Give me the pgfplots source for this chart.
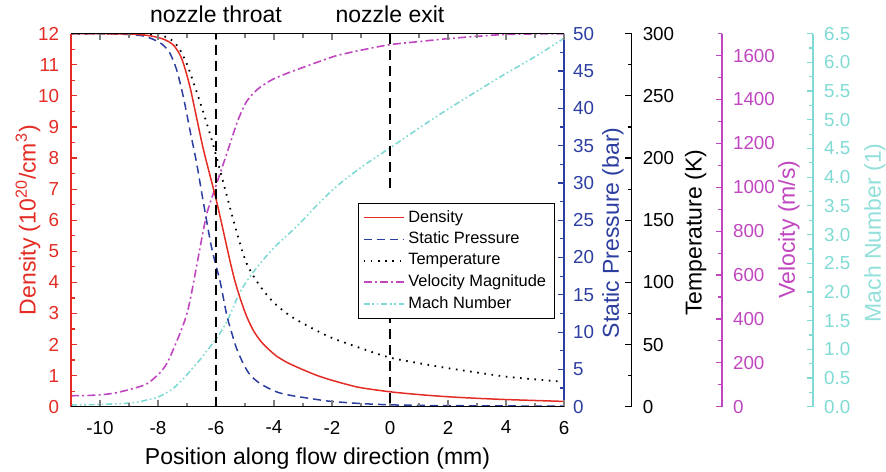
\documentclass[border=0pt]{standalone}
\usepackage{pgfplots}
\pgfplotsset{compat=1.18}
\usepackage{fontspec}
\setmainfont{Liberation Sans}

\definecolor{densred}{RGB}{228,44,36}
\definecolor{presblue}{RGB}{44,62,160}
\definecolor{velmag}{RGB}{192,70,192}
\definecolor{machcyan}{RGB}{128,218,212}

\newcommand{\ticksize}{\fontsize{9.4}{11}\selectfont}
\newcommand{\labsize}{\fontsize{11.5}{13.5}\selectfont}

\pgfplotsset{
  base/.style={
    scale only axis, height=186.5pt,
    xmin=-11, ymin=0,
    major tick length=3.2pt, minor tick length=1.9pt,
    /pgf/number format/assume math mode=true,
    /pgf/number format/1000 sep={},
    tick label style={font=\ticksize},
    label style={font=\labsize},
    every tick/.append style={line width=0.6pt},
  },
  scaleaxis/.style={
    base, hide x axis, axis y line=right,
    tick align=inside,
    axis line style={-, line width=0.6pt},
    y axis line style={#1},
    tick style={#1},
    yticklabel style={text=#1, xshift=2pt},
  },
  densstyle/.style={densred, line width=0.75pt},
  presstyle/.style={presblue, line width=0.75pt, dash pattern=on 4pt off 2.5pt},
  tempstyle/.style={black, line width=0.9pt, dash pattern=on 0.8pt off 2.8pt},
  velstyle/.style={velmag, line width=0.8pt, dash pattern=on 4pt off 1.6pt on 1pt off 1.6pt},
  machstyle/.style={machcyan, line width=0.8pt, dash pattern=on 3pt off 1.4pt on 0.8pt off 1.4pt on 0.8pt off 1.4pt},
}

\begin{document}
\begin{tikzpicture}

% Mach number (outermost right scale)
\begin{axis}[scaleaxis=machcyan, width=371pt, xmax=14.5862, ymax=6.5,
  ytick={0,0.5,...,6.5}, minor ytick={0.25,0.75,...,6.25},
  yticklabel style={/pgf/number format/.cd, fixed, fixed zerofill, precision=1},
  ylabel={Mach Number (1)},
  every axis y label/.style={at={([xshift=31pt]rel axis cs:1,0.466)}, anchor=center, rotate=90, inner sep=0pt, text=machcyan!85!white, font=\labsize}]
\addplot[machstyle, smooth] coordinates {
  (-11,0.03) (-10,0.04) (-9.08,0.06) (-8.62,0.09) (-8.05,0.16) (-7.75,0.23)
  (-7.47,0.32) (-7.1,0.5) (-6.78,0.69) (-6.55,0.82) (-6.32,0.97) (-5.98,1.19)
  (-5.63,1.48) (-5.4,1.74) (-5.17,2.0) (-4.71,2.35) (-4.02,2.76) (-3.22,3.14)
  (-2.5,3.52) (-1.84,3.84) (-1,4.17) (0,4.51) (1.61,5.06) (3,5.5) (3.91,5.78)
  (5,6.1) (6,6.42)};
\end{axis}

% Velocity magnitude
\begin{axis}[scaleaxis=velmag, width=325.5pt, xmax=11.4483, ymax=1700,
  ytick={0,200,...,1600}, minor ytick={100,300,...,1700},
  ylabel={Velocity (m/s)},
  every axis y label/.style={at={([xshift=33.5pt]rel axis cs:1,0.475)}, anchor=center, rotate=90, inner sep=0pt, text=velmag, font=\labsize}]
\addplot[velstyle, smooth] coordinates {
  (-11,50) (-10.5,51) (-10,54) (-9.5,62) (-9.08,75) (-8.62,92) (-8.39,104)
  (-8.2,122) (-8.05,140) (-7.93,155) (-7.75,185) (-7.59,225) (-7.47,262)
  (-7.24,335) (-7.01,420) (-6.84,520) (-6.67,640) (-6.5,760) (-6.38,842)
  (-6.32,880) (-6.15,950) (-5.98,1016) (-5.63,1153) (-5.29,1289) (-5.1,1350)
  (-4.94,1392) (-4.7,1430) (-4.48,1456) (-4.14,1485) (-3.91,1500) (-3.5,1522)
  (-2.99,1547) (-2.4,1575) (-1.84,1600) (-1,1625) (0,1650) (1,1664)
  (1.96,1677) (3,1688) (3.91,1696) (5,1699) (6,1700)};
\end{axis}

% Temperature
\begin{axis}[scaleaxis=black, width=280.35pt, xmax=8.3345, ymax=300,
  ytick={0,50,...,300}, minor ytick={25,75,...,275},
  ylabel={Temperature (K)},
  every axis y label/.style={at={([xshift=32pt]rel axis cs:1,0.466)}, anchor=center, rotate=90, inner sep=0pt, text=black, font=\labsize}]
\addplot[tempstyle, smooth] coordinates {
  (-11,300) (-9,300) (-8,299) (-7.6,296) (-7.4,292) (-7.24,287) (-7.01,276)
  (-6.78,261) (-6.55,245) (-6.32,228) (-6.09,210) (-5.86,190) (-5.63,170)
  (-5.4,150) (-5.17,131) (-4.94,115) (-4.6,101) (-4.25,90) (-3.95,82.5)
  (-3.5,74) (-3,67) (-2.07,56) (-1,47) (0,39.5) (1,35) (2,31) (3,27.5)
  (4,24.2) (5,22) (6,20)};
\end{axis}

% Static pressure (right side of the main frame)
\begin{axis}[scaleaxis=presblue, width=246.5pt, xmax=6, ymax=50,
  ytick={0,5,...,50}, minor ytick={2.5,7.5,...,47.5},
  yticklabel style={xshift=-1pt},
  ylabel={Static Pressure (bar)},
  every axis y label/.style={at={([xshift=24.5pt]rel axis cs:1,0.466)}, anchor=center, rotate=90, inner sep=0pt, text=presblue, font=\labsize}]
\addplot[presstyle, smooth] coordinates {
  (-11,50) (-10,50) (-9,49.9) (-8.5,49.7) (-8.2,49.3) (-7.93,48.8) (-7.75,48.2)
  (-7.59,47.4) (-7.36,45.2) (-7.13,41.6) (-6.9,37.1) (-6.67,32.7) (-6.44,27.5)
  (-6.15,21.3) (-5.86,16.8) (-5.63,12.3) (-5.45,9.8) (-5.29,7.8) (-5.05,5.7)
  (-4.83,4.3) (-4.55,3.3) (-4.25,2.6) (-3.85,1.9) (-3.4,1.5) (-3.0,1.25)
  (-2.5,0.95) (-2.0,0.7) (-1,0.42) (0,0.25) (1,0.18) (2,0.14) (4,0.1) (6,0.08)};
\end{axis}

% Density (left scale)
\begin{axis}[base, width=246.5pt, xmax=6, ymax=12,
  hide x axis, axis y line=left,
  tick align=inside,
  axis line style={-, line width=0.6pt},
  y axis line style={densred}, tick style={densred},
  yticklabel style={text=densred, xshift=-2.4pt},
  ytick={0,1,...,12}, minor ytick={0.5,1.5,...,11.5},
  ylabel={Density (10\textsuperscript{20}/cm\textsuperscript{3})},
  every axis y label/.style={at={([xshift=-21.5pt]rel axis cs:0,0.5)}, anchor=center, rotate=90, inner sep=0pt, text=densred, font=\labsize}]
\addplot[densstyle, smooth] coordinates {
  (-11,12.0) (-10,12.0) (-9,11.99) (-8.6,11.97) (-8.2,11.92) (-7.8,11.82)
  (-7.5,11.66) (-7.3,11.42) (-7.13,11.06) (-6.9,10.3) (-6.67,9.3) (-6.44,8.3)
  (-6.21,7.45) (-6.03,6.8) (-5.86,6.12) (-5.7,5.45) (-5.52,4.7) (-5.35,4.05)
  (-5.17,3.5) (-4.95,2.92) (-4.71,2.45) (-4.45,2.1) (-4.2,1.86) (-3.9,1.62)
  (-3.5,1.4) (-3.0,1.19) (-2.5,1.0) (-2.0,0.85) (-1.5,0.72) (-1,0.61)
  (0,0.48) (1,0.39) (2,0.32) (3,0.27) (4,0.23) (5,0.2) (6,0.17)};
\end{axis}

% Position axis, nozzle markers and legend
\begin{axis}[base, name=main, width=246.5pt, xmax=6, ymax=12,
  hide y axis, axis x line=box,
  tick align=inside,
  axis line style={-, line width=0.6pt},
  clip=false,
  xtick={-10,-8,...,6}, minor xtick={-9,-7,...,5},
  xticklabel style={yshift=-3.6pt},
  xlabel={Position along flow direction (mm)},
  every axis x label/.style={at={(rel axis cs:0.5,0)}, anchor=base, yshift=-29pt, inner sep=0pt, font=\labsize},
  legend cell align=left,
  legend image code/.code={\draw[#1] (0pt,0pt) -- (20pt,0pt);},
  legend style={at={(axis cs:-1.1,6.56)}, anchor=north west, draw=black,
    line width=0.5pt, fill=white, font=\fontsize{8.2}{9.5}\selectfont,
    inner xsep=2pt, inner ysep=1.5pt, row sep=-0.6pt}]
\addplot[forget plot, black, line width=1.2pt, dash pattern=on 5pt off 3pt] coordinates {(-6,0) (-6,12)};
\addplot[forget plot, black, line width=1.2pt, dash pattern=on 5pt off 3pt] coordinates {(0,12) (0,7.0)};
\addplot[forget plot, black, line width=1.2pt, dash pattern=on 5pt off 3pt] coordinates {(0,3.0) (0,0)};
\node[anchor=base, yshift=5.5pt, inner sep=0pt, font=\labsize] at (axis cs:-6,12) {nozzle throat};
\node[anchor=base, yshift=5.5pt, inner sep=0pt, font=\labsize] at (axis cs:0,12) {nozzle exit};
\addlegendimage{densstyle}
\addlegendentry{Density}
\addlegendimage{presstyle}
\addlegendentry{Static Pressure}
\addlegendimage{tempstyle}
\addlegendentry{Temperature}
\addlegendimage{velstyle}
\addlegendentry{Velocity Magnitude}
\addlegendimage{machstyle}
\addlegendentry{Mach Number}
\end{axis}

% canvas extent
\path (main.south west) ++(-35.5pt,-32.15pt) rectangle ++(443pt,235.5pt);
\end{tikzpicture}
\end{document}
